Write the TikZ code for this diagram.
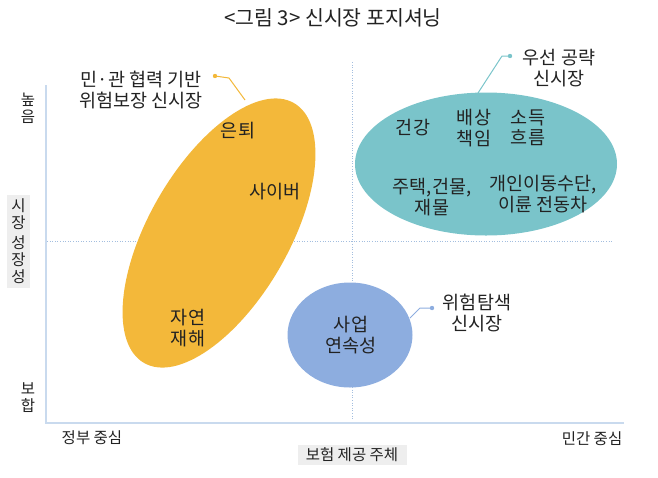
\documentclass[tikz,border=0pt]{standalone}
\usepackage{fontspec}
\setmainfont{Noto Sans CJK KR}
\usetikzlibrary{shapes.geometric}
\definecolor{yel}{HTML}{F3B83A}
\definecolor{teal2}{HTML}{7AC4CA}
\definecolor{blu}{HTML}{8DADDF}
\definecolor{axisc}{HTML}{C9DAEE}
\definecolor{dotc}{HTML}{A3BEDF}
\definecolor{txt}{HTML}{222222}
\definecolor{boxg}{HTML}{EEEEEE}
\tikzset{
  lbl/.style={text=txt, font=\fontsize{18.5}{20.5}\selectfont, align=center, inner sep=0},
  axl/.style={text=txt, font=\fontsize{15.5}{17}\selectfont, align=center, inner sep=0},
  blob/.style={ellipse, draw=none, inner sep=0},
  guide/.style={dotc, line width=0.8pt, dash pattern=on 1pt off 1.6pt},
  axisline/.style={axisc, line width=1.6pt},
}
\begin{document}
\begin{tikzpicture}[x=1pt,y=-1pt]
\useasboundingbox (0,0) rectangle (658,477);
% title
\node[text=txt, font=\fontsize{20.5}{24}\selectfont, inner sep=0] (title) at (333,18) {<그림 3> 신시장 포지셔닝};
% guide lines
\coordinate (vt) at (352,62);
\coordinate (vb) at (352,420);
\coordinate (hl) at (47,241);
\coordinate (hr) at (612,241);
\draw[guide] (vt) -- (vb);
\draw[guide] (hl) -- (hr);
% axes
\coordinate (ytop) at (46,85);
\coordinate (orig) at (46,423);
\coordinate (xend) at (624,423);
\draw[axisline] (ytop) -- (orig) -- (xend);
% ellipses
\node[blob, fill=yel, minimum width=300pt, minimum height=140pt, rotate=60] (ye) at (219,233) {};
\node[blob, fill=teal2, minimum width=262pt, minimum height=143pt] (te) at (486,164) {};
\node[blob, fill=blu, minimum width=125pt, minimum height=105pt] (be) at (350,335) {};
% callouts
\node[lbl, anchor=east] (yl) at (203,90) {민·관 협력 기반\\위험보장 신시장};
\coordinate (yd) at (215,76);
\coordinate (yk) at (229,78);
\coordinate (ye1) at (245,100);
\draw[yel, line width=1pt] (yd) -- (yk) -- (ye1);
\fill[yel] (yd) circle (2.2pt);

\node[lbl] (tl) at (559,68) {우선 공략\\신시장};
\coordinate (td) at (510,56);
\coordinate (tk) at (502,56);
\coordinate (te1) at (478,93);
\draw[teal2, line width=1pt] (td) -- (tk) -- (te1);
\fill[teal2] (td) circle (2.2pt);

\node[lbl] (bl) at (477,313) {위험탐색\\신시장};
\coordinate (bd) at (432,308);
\coordinate (bk) at (420,308);
\coordinate (be1) at (410,318);
\draw[blu, line width=1pt] (bd) -- (bk) -- (be1);
\fill[blu] (bd) circle (2.2pt);
% inside labels
\node[lbl] (l1) at (238,131) {은퇴};
\node[lbl] (l2) at (275,192) {사이버};
\node[lbl] (l3) at (188,328) {자연\\재해};
\node[lbl] (l4) at (413,128) {건강};
\node[lbl] (l5) at (474,128) {배상\\책임};
\node[lbl] (l6) at (528,128) {소득\\흐름};
\node[lbl] (l7) at (432,197) {주택,건물,\\재물};
\node[lbl] (l8) at (543,194) {개인이동수단,\\이륜 전동차};
\node[lbl] (l9) at (351,335) {사업\\연속성};
% axis labels
\node[axl] (hi) at (28,108) {높\\음};
\fill[boxg] (7,195) rectangle (30,288);
\node[axl] (yax) at (18.5,241) {시\\장\\[3pt]성\\장\\성};
\node[axl] (lo) at (28,398) {보\\합};
\node[axl] (gov) at (92,438) {정부 중심};
\node[axl] (pri) at (592,439) {민간 중심};
\fill[boxg] (298,445) rectangle (407,465);
\node[axl] (xax) at (352,455) {보험 제공 주체};
\end{tikzpicture}
\end{document}
